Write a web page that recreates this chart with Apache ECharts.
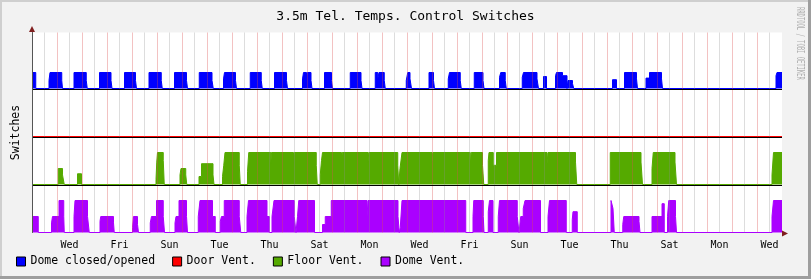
<!DOCTYPE html>
<html><head><meta charset="utf-8">
<script src="https://cdn.jsdelivr.net/npm/echarts@6/dist/echarts.min.js"></script>
<style>html,body{margin:0;padding:0;background:#f2f2f2}#c{width:811px;height:279px}</style>
</head><body><div id="c"></div>
<script>
// ---- data (x in days from start of window, values are switch levels) ----
const seriesNames = ['Dome closed/opened', 'Door Vent.', 'Floor Vent.', 'Dome Vent.'];
const laneOffsets = [9, 6, 3, 0];
const tickPositions = [1.5, 3.5, 5.5, 7.5, 9.5, 11.5, 13.5, 15.5, 17.5, 19.5, 21.5, 23.5, 25.5, 27.5, 29.5];
const tickLabels = ['Wed', 'Fri', 'Sun', 'Tue', 'Thu', 'Sat', 'Mon', 'Wed', 'Fri', 'Sun', 'Tue', 'Thu', 'Sat', 'Mon', 'Wed'];

// change points: [day, level from that day on]
const domeOpen = [
  [0,1],[0.15,0],
  [0.68,0.5],[0.72,1],[1.19,0.5],[1.22,0],
  [1.68,1],[2.17,0.5],[2.21,0],
  [2.7,1],[3.16,0.5],[3.2,0],
  [3.7,1],[4.14,0.5],[4.18,0],
  [4.68,1],[5.17,0.5],[5.21,0],
  [5.7,1],[6.18,0.5],[6.22,0],
  [6.69,1],[7.2,0.5],[7.25,0],
  [7.66,0.6],[7.7,1],[8.14,0.5],[8.18,0],
  [8.73,1],[9.17,0.5],[9.21,0],
  [9.7,1],[10.18,0.5],[10.22,0],
  [10.82,0.6],[10.86,1],[10.98,0.7],[11.02,1],[11.16,0.5],[11.2,0],
  [11.7,1],[11.98,0.5],[12.02,0],
  [12.73,1],[13.16,0.5],[13.2,0],
  [13.73,1],[13.83,0.6],[13.88,1],[14.09,0.5],[14.13,0],
  [14.97,0.5],[15.03,1],[15.12,0.6],[15.18,0],
  [15.88,1],[16.06,0.5],[16.1,0],
  [16.65,0.6],[16.7,1],[17.13,0.5],[17.17,0],
  [17.69,1],[18.04,0.5],[18.08,0],
  [18.7,0.7],[18.75,1],[18.93,0.5],[18.97,0],
  [19.61,0.7],[19.66,1],[20.2,0.6],[20.26,0],
  [20.46,0.75],[20.58,0],
  [20.94,0.8],[20.98,1],[21.22,0.8],[21.4,0],[21.44,0.5],[21.62,0.3],[21.67,0],
  [23.22,0.55],[23.38,0],
  [23.7,1],[24.18,0.6],[24.22,0],
  [24.56,0.65],[24.7,1],[25.18,0.6],[25.22,0],
  [29.76,0.8],[29.8,1],[30,1]
];
const doorVent = [[0,0],[30,0]];
const floorVent = [
  [0,0],
  [1.05,1],[1.22,0.6],[1.29,0],
  [1.82,0.67],[1.98,0],
  [4.96,0.3],[4.99,1.4],[5.02,2],[5.25,1.5],[5.29,0],
  [5.92,0.6],[5.96,1],[6.15,0.6],[6.19,0],
  [6.68,0.5],[6.78,1.3],[7.24,0.6],[7.28,0],
  [7.62,0.5],[7.67,1.2],[7.72,2],[8.29,1.2],[8.33,0],
  [8.62,0.8],[8.67,2],[9.55,1.3],[9.58,2],[10.46,1.4],[10.49,2],[11.37,1.2],[11.41,0],
  [11.53,0.6],[11.58,1.5],[11.62,2],[12.38,1.4],[12.41,2],[13.44,1.4],[13.47,2],[14.63,1.2],[14.67,0],
  [14.72,1],[14.8,2],[16.0,1.4],[16.03,2],[17.53,1.2],[17.57,2],[18.02,1.2],[18.07,0],
  [18.25,1.5],[18.28,2],[18.45,1.2],[18.58,2],[20.6,1.3],[20.64,2],[21.74,1.4],[21.79,0],
  [23.13,2],[24.36,1.4],[24.42,0],
  [24.8,1],[24.85,2],[25.72,1.4],[25.78,0],
  [29.6,0.6],[29.66,2],[30,2]
];
const domeVent = [
  [0,1],[0.25,0],
  [0.78,0.6],[0.82,1],[1.08,2],[1.27,1],[1.29,0],
  [1.68,1],[1.72,2],[2.22,1],[2.29,0],
  [2.72,0.7],[2.75,1],[3.26,0.6],[3.29,0],
  [4.02,0.3],[4.06,1],[4.22,0.5],[4.26,0],
  [4.73,0.6],[4.78,1],[4.98,2],[5.25,1],[5.3,0],
  [5.72,0.6],[5.76,1],[5.88,2],[6.18,1],[6.22,0],
  [6.65,1],[6.72,2],[7.22,1],[7.33,0],
  [7.53,0.7],[7.58,1],[7.69,2],[8.29,1],[8.35,0],
  [8.6,1],[8.66,2],[9.4,1],[9.49,0],
  [9.6,1],[9.68,2],[10.49,1],[10.56,0],
  [10.62,1],[10.67,2],[11.3,0],
  [11.62,0.5],[11.73,1],[11.97,2],[13.4,1],[13.44,2],[14.64,1],[14.69,0],
  [14.73,0.3],[14.8,2],[17.35,0],
  [17.64,1],[17.67,2],[18.05,1],[18.08,0],
  [18.25,1.3],[18.3,2],[18.44,0],
  [18.65,1],[18.7,2],[19.41,1],[19.48,0],
  [19.55,1],[19.65,1.5],[19.72,2],[20.34,0],
  [20.64,1],[20.7,2],[21.37,0],
  [21.61,0.8],[21.64,1.3],[21.81,0],
  [23.16,2],[23.24,1.5],[23.29,0],
  [23.63,0.5],[23.67,1],[24.28,0.7],[24.32,0],
  [24.8,1],[25.2,1.8],[25.29,0],
  [25.42,1],[25.47,2],[25.74,1],[25.78,0],
  [29.6,1],[29.66,2],[30,2]
];
const seriesValues = [domeOpen, doorVent, floorVent, domeVent];
const seriesColors = ['#0000ff', '#ff0000', '#55aa00', '#aa00ff'];

// ---- build step polylines ----
function steps(changes, off) {
  const pts = []; let prev = null;
  for (const [d, v] of changes) {
    if (prev !== null) pts.push([d, off + prev]);
    pts.push([d, off + v]);
    prev = v;
  }
  return pts;
}

const FONT = '"DejaVu Sans Mono", "Liberation Mono", monospace';
const YMAX = 12.5;
const series = [];
seriesNames.forEach((name, i) => {
  series.push({
    name, type: 'line', symbol: 'none', animation: false, z: 2,
    data: steps(seriesValues[i], laneOffsets[i]),
    itemStyle: { color: seriesColors[i] },
    lineStyle: { color: seriesColors[i], width: 1 },
    areaStyle: { color: seriesColors[i], opacity: 1, origin: laneOffsets[i] }
  });
});
// black lane base lines, drawn on a helper axis shifted one pixel (1/16 unit) down
laneOffsets.forEach(off => {
  series.push({
    type: 'line', symbol: 'none', animation: false, silent: true, z: 4, yAxisIndex: 1,
    data: [[0, off], [30, off]],
    lineStyle: { color: '#000', width: 1 }
  });
});

const chart = echarts.init(document.getElementById('c'), null, { renderer: 'canvas' });
chart.setOption({
  animation: false,
  backgroundColor: '#f2f2f2',
  title: {
    text: '3.5m Tel. Temps. Control Switches', left: 'center', top: 10, padding: 0,
    textStyle: { fontFamily: FONT, fontSize: 13, fontWeight: 'normal', color: '#000' }
  },
  legend: {
    data: seriesNames, left: 16, top: 255, padding: 0, icon: 'rect',
    itemWidth: 9, itemHeight: 9, itemGap: 17, selectedMode: false,
    itemStyle: { borderColor: '#000', borderWidth: 1 },
    textStyle: { fontFamily: FONT, fontSize: 11.5, color: '#000', lineHeight: 13 }
  },
  grid: { left: 32, width: 750, top: 32.5, height: 200, show: true, backgroundColor: '#fff', borderWidth: 0 },
  xAxis: {
    type: 'value', min: 0, max: 30, interval: 0.5, z: 3,
    axisLine: { show: false },
    axisTick: { show: false },
    axisLabel: {
      color: '#000', fontFamily: FONT, fontSize: 10, margin: 8,
      formatter: v => { const k = tickPositions.indexOf(v); return k >= 0 ? tickLabels[k] : ''; }
    },
    splitLine: { show: true, showMaxLine: false, lineStyle: { color: ['rgba(222,79,79,0.35)', 'rgba(143,143,143,0.3)'], width: 1 } }
  },
  yAxis: [{
    type: 'value', min: 0, max: YMAX, z: 5,
    axisLine: { show: true, lineStyle: { color: '#555' } },
    axisTick: { show: false }, axisLabel: { show: false }, splitLine: { show: false },
    name: 'Switches', nameLocation: 'middle', nameGap: 10,
    nameTextStyle: { fontFamily: FONT, fontSize: 11.5, color: '#000' }
  }, {
    type: 'value', min: 1 / 16, max: YMAX + 1 / 16, show: false, position: 'left'
  }],
  graphic: [
    { type: 'rect', shape: { x: 0, y: 0, width: 811, height: 2 }, style: { fill: '#cfcfcf' }, silent: true },
    { type: 'rect', shape: { x: 0, y: 0, width: 2, height: 279 }, style: { fill: '#cfcfcf' }, silent: true },
    { type: 'rect', shape: { x: 808, y: 0, width: 3, height: 279 }, style: { fill: '#9e9e9e' }, silent: true },
    { type: 'rect', shape: { x: 0, y: 276, width: 811, height: 3 }, style: { fill: '#9e9e9e' }, silent: true },
    { type: 'polygon', shape: { points: [[29, 32], [35, 32], [32, 26]] }, style: { fill: '#801f1f' }, silent: true, z: 10 },
    { type: 'polygon', shape: { points: [[782, 230.5], [782, 236.5], [788, 233.5]] }, style: { fill: '#801f1f' }, silent: true, z: 10 },
    { type: 'text', x: 800, y: 7, rotation: -Math.PI / 2, scaleX: 0.55, silent: true,
      style: { text: 'RRDTOOL / TOBI OETIKER', fill: '#b0b0b0', font: '10px ' + FONT, align: 'left', verticalAlign: 'middle' } }
  ],
  series
});
</script></body></html>
